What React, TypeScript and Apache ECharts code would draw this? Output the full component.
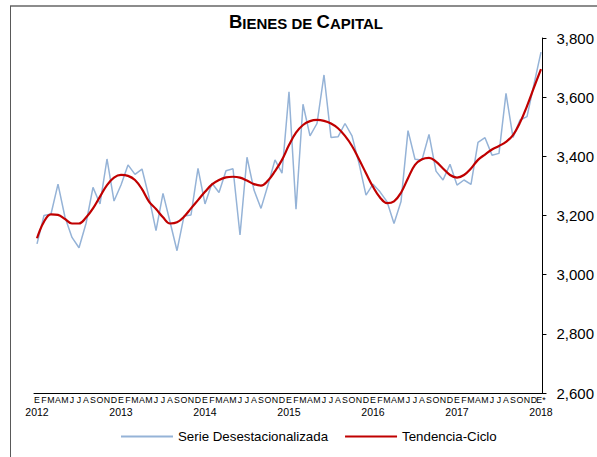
import React, { useEffect, useRef } from "react";
import * as echarts from "echarts";

const months = ["E", "F", "M", "A", "M", "J", "J", "A", "S", "O", "N", "D"];
const years = [2012, 2013, 2014, 2015, 2016, 2017, 2018];

const serieDesestacionalizada = [
  3104, 3200, 3205, 3306, 3194, 3126, 3091, 3173, 3295, 3239, 3391, 3249,
  3303, 3371, 3339, 3357, 3262, 3149, 3275, 3179, 3081, 3198, 3202, 3359,
  3239, 3309, 3278, 3351, 3358, 3134, 3397, 3286, 3224, 3303, 3388, 3343,
  3618, 3221, 3576, 3469, 3511, 3675, 3464, 3466, 3511, 3469, 3376, 3269,
  3306, 3280, 3247, 3173, 3247, 3487, 3390, 3388, 3474, 3350, 3320, 3373,
  3303, 3320, 3305, 3447, 3463, 3404, 3410, 3613, 3464, 3523, 3534, 3644,
  3752,
];

const tendenciaCiclo = [
  3123, 3179, 3204, 3202, 3188, 3173, 3173, 3193, 3224, 3264, 3303, 3328,
  3337, 3334, 3320, 3289, 3247, 3222, 3194, 3173, 3177, 3196, 3224, 3252,
  3280, 3305, 3320, 3329, 3331, 3328, 3318, 3306, 3301, 3318, 3350, 3388,
  3438, 3480, 3506, 3519, 3523, 3520, 3511, 3495, 3469, 3435, 3390, 3343,
  3297, 3261, 3242, 3248, 3277, 3326, 3371, 3390, 3395, 3382, 3359, 3337,
  3328, 3337, 3359, 3388, 3406, 3423, 3435, 3449, 3472, 3514, 3570, 3633,
  3695,
];

const yMin = 2600;
const yMax = 3800;
const yStep = 200;

// category labels: "month|year" (year only on January)
const categories: string[] = [];
years.forEach((y, yi) => {
  months.forEach((m, mi) => {
    if (yi === years.length - 1 && mi > 0) return;
    const label = yi === years.length - 1 ? "E*" : m;
    categories.push(mi === 0 ? `${label}|${y}` : label);
  });
});

const FONT = "'Liberation Sans', Arial, sans-serif";

export default function App() {
  const ref = useRef<HTMLDivElement>(null);
  useEffect(() => {
    if (!ref.current) return;
    const chart = echarts.init(ref.current, null, { renderer: "svg" });
    chart.setOption({
      animation: false,
      backgroundColor: "#ffffff",
      textStyle: { fontFamily: FONT },
      title: {
        text: "{a|B}{b|IENES DE }{a|C}{b|APITAL}",
        left: 229,
        top: 11,
        padding: 0,
        textStyle: {
          rich: {
            a: { fontSize: 18.5, fontWeight: "bold", color: "#000", fontFamily: FONT, lineHeight: 20, verticalAlign: "bottom" },
            b: { fontSize: 15, fontWeight: "bold", color: "#000", fontFamily: FONT, lineHeight: 17.6, verticalAlign: "bottom" },
          },
        },
      },
      legend: {
        left: 121,
        top: 430,
        padding: 0,
        itemWidth: 52,
        itemHeight: 2,
        itemGap: 17,
        textStyle: { fontSize: 13.3, color: "#000", fontFamily: FONT },
        data: [
          { name: "Serie Desestacionalizada", icon: "rect" },
          { name: "Tendencia-Ciclo", icon: "rect" },
        ],
      },
      graphic: [
        { type: "line", shape: { x1: 10, y1: 6, x2: 597, y2: 6 }, style: { stroke: "#8c8c8c", lineWidth: 2 } },
        { type: "line", shape: { x1: 10.5, y1: 6, x2: 10.5, y2: 457 }, style: { stroke: "#595959", lineWidth: 1 } },
      ],
      grid: [
        { left: 37, right: 56, top: 38, bottom: 64 },
        { left: 34, right: 53, top: 38, bottom: 64 },
      ],
      xAxis: [
        {
          type: "category",
          gridIndex: 0,
          data: categories,
          boundaryGap: false,
          axisLine: { show: false },
          axisTick: { show: false },
          splitLine: { show: false },
          axisLabel: {
            interval: 0,
            margin: 1,
            formatter: (v: string) => {
              const parts = v.split("|");
              return parts.length > 1 ? `{m|${parts[0]}}\n{y|${parts[1]}}` : `{m|${parts[0]}}`;
            },
            rich: {
              m: { fontSize: 8.8, lineHeight: 11, color: "#000", fontFamily: FONT },
              y: { fontSize: 10.5, lineHeight: 13, color: "#000", fontFamily: FONT },
            },
          },
        },
        {
          type: "value",
          gridIndex: 1,
          min: 0,
          max: 1,
          axisLine: { show: true, onZero: false, lineStyle: { color: "#000", width: 1 } },
          axisTick: { show: false },
          axisLabel: { show: false },
          splitLine: { show: false },
        },
      ],
      yAxis: [
        { type: "value", gridIndex: 0, min: yMin, max: yMax, show: false, splitLine: { show: false } },
        {
          type: "value",
          gridIndex: 1,
          position: "right",
          min: yMin,
          max: yMax,
          interval: yStep,
          axisLine: { show: true, onZero: false, lineStyle: { color: "#000", width: 1 } },
          axisTick: { show: true, length: 4, lineStyle: { color: "#000" } },
          splitLine: { show: false },
          axisLabel: {
            margin: 14,
            fontSize: 15,
            color: "#000",
            fontFamily: FONT,
            formatter: (v: number) => v.toLocaleString("en-US"),
          },
        },
      ],
      series: [
        {
          name: "Serie Desestacionalizada",
          type: "line",
          xAxisIndex: 0,
          yAxisIndex: 0,
          data: serieDesestacionalizada,
          symbol: "none",
          lineStyle: { color: "#95b3d7", width: 1.5 },
          itemStyle: { color: "#95b3d7" },
        },
        {
          name: "Tendencia-Ciclo",
          type: "line",
          xAxisIndex: 0,
          yAxisIndex: 0,
          data: tendenciaCiclo,
          symbol: "none",
          smooth: 0.4,
          lineStyle: { color: "#c00000", width: 2.2 },
          itemStyle: { color: "#c00000" },
        },
      ],
    });
    return () => chart.dispose();
  }, []);
  return (
    <div
      ref={ref}
      style={{ position: "fixed", left: 0, top: 0, width: 597, height: 457, background: "#fff" }}
    />
  );
}
